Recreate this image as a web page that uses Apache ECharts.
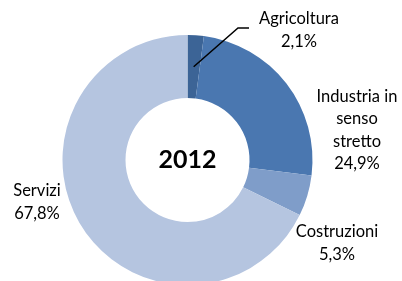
<!DOCTYPE html>
<html>
<head>
<meta charset="utf-8">
<script src="https://cdn.jsdelivr.net/npm/echarts@6/dist/echarts.min.js"></script>
<style>
  html, body { margin: 0; padding: 0; background: #fff; }
  #chart { width: 402px; height: 281px; }
</style>
</head>
<body>
<div id="chart"></div>
<script>
// dati 2012
var settori = ['Agricoltura', 'Industria in\nsenso\nstretto', 'Costruzioni', 'Servizi'];
var quote = [2.1, 24.9, 5.3, 67.8];
var colori = ['#3c6496', '#4a77b0', '#7f9dc9', '#b5c5e0'];
var anno = '2012';

// posizione etichette (centro del testo)
var posEtichette = [[299, 30], [357, 130], [337, 243], [37, 202]];

var cx = 187.5, cy = 160, rIn = 62, rOut = 125;

(function(){
    var myChart = echarts.init(document.getElementById('chart'));
    var FONT = 'Lato';

    // linea guida di Agricoltura, dal centro dell'anello
    var tot = quote.reduce(function(a, b){ return a + b; }, 0);
    var ang = (quote[0] / 2) / tot * 2 * Math.PI;
    var rm = (rIn + rOut) / 2;
    var x0 = cx + rm * Math.sin(ang), y0 = cy - rm * Math.cos(ang);

    var option = {
        animation: false,
        graphic: [{
            type: 'text',
            z: 100,
            style: {
                text: anno,
                x: cx, y: cy,
                font: 'bold 25px ' + FONT,
                fill: '#000',
                align: 'center',
                verticalAlign: 'middle'
            }
        }, {
            type: 'polyline',
            z: 100,
            shape: { points: [[x0, y0], [238, 28], [249, 28]] },
            style: { stroke: '#000', lineWidth: 1.5, fill: null }
        }],
        series: [{
            type: 'pie',
            center: [cx, cy],
            radius: [rIn, rOut],
            startAngle: 90,
            clockwise: true,
            avoidLabelOverlap: false,
            data: settori.map(function(n, i){
                return { name: n, value: quote[i], itemStyle: { color: colori[i] } };
            }),
            label: {
                show: true,
                position: 'outside',
                fontFamily: FONT,
                fontSize: 16.5,
                lineHeight: 22.5,
                color: '#000',
                align: 'center',
                formatter: function(p){
                    return p.name + '\n' + p.value.toFixed(1).replace('.', ',') + '%';
                }
            },
            labelLine: { show: false },
            labelLayout: function(p){
                var pos = posEtichette[p.dataIndex];
                return {
                    x: pos[0],
                    y: pos[1],
                    align: 'center',
                    verticalAlign: 'middle'
                };
            }
        }]
    };
    myChart.setOption(option);
    window.addEventListener('resize', function(){
        myChart.resize();
    });
})();
</script>
</body>
</html>
